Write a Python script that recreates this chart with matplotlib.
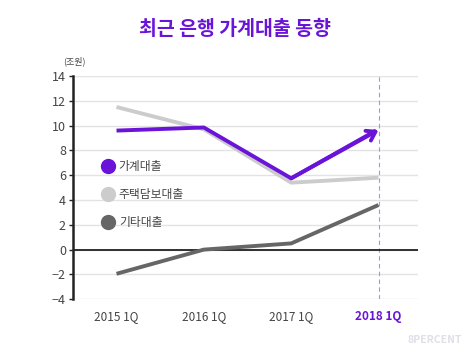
import matplotlib
matplotlib.use("Agg")
import matplotlib.pyplot as plt
from matplotlib.lines import Line2D

plt.rcParams['font.family'] = ['Noto Sans CJK KR', 'DejaVu Sans']

quarters = ["2015 1Q", "2016 1Q", "2017 1Q", "2018 1Q"]
household = [9.6, 9.85, 5.75, 9.65]
mortgage = [11.5, 9.7, 5.4, 5.8]
other = [-1.95, 0.0, 0.5, 3.6]
series_names = ["가계대출", "주택담보대출", "기타대출"]

PURPLE = "#6a14d8"
LIGHT = "#cccccc"
DARK = "#666666"

fig = plt.figure(figsize=(4.7, 3.52), dpi=100)
ax = fig.add_axes([0.155, 0.150, 0.734, 0.634])

x = list(range(len(quarters)))
ax.set_xlim(-0.5, 3.45)
ax.set_ylim(-4, 14)
ax.set_yticks(range(-4, 15, 2))
ax.grid(axis='y', color='#e3e3e3', lw=1)
ax.set_axisbelow(True)
ax.axhline(0, color='#222222', lw=1.3, zorder=2)
ax.axvline(3, color='#b48cf0', lw=0.8, ls=(0, (4, 3)), zorder=1)

ax.plot(x, mortgage, color=LIGHT, lw=2.8, solid_capstyle='butt', zorder=3)
ax.plot(x, other, color=DARK, lw=2.8, solid_capstyle='butt', zorder=3)
ax.plot(x[:-1] + [x[-1] - 0.03], household[:-1] + [household[-1] - 0.05],
        color=PURPLE, lw=2.8, solid_capstyle='butt', zorder=4)
ax.annotate("", xy=(x[-1], household[-1]), xytext=(x[-2], household[-2]),
            arrowprops=dict(arrowstyle='->,head_length=0.6,head_width=0.4',
                            color=PURPLE, lw=2.8, shrinkA=0, shrinkB=0), zorder=5)

for s in ['top', 'right', 'bottom']:
    ax.spines[s].set_visible(False)
ax.spines['left'].set_color('#222222')
ax.spines['left'].set_linewidth(1.8)
ax.tick_params(axis='y', length=3, width=1, color='#222222', labelsize=9, labelcolor='#444444', pad=2)
ax.tick_params(axis='x', length=0, labelsize=8.5, labelcolor='#444444', pad=8)
ax.set_xticks(x)
ax.set_xticklabels(quarters)
lbl = ax.get_xticklabels()[-1]
lbl.set_color(PURPLE)
lbl.set_fontweight('bold')

handles = [Line2D([], [], ls='none', marker='o', ms=10, color=c) for c in (PURPLE, LIGHT, DARK)]
leg = ax.legend(handles, series_names, loc='upper left', bbox_to_anchor=(0.082, 0.625),
                frameon=False, fontsize=8.5, labelspacing=1.3, handletextpad=0.3,
                handlelength=1.2, borderaxespad=0, borderpad=0)
for t in leg.get_texts():
    t.set_color('#444444')

fig.text(0.5, 0.915, "최근 은행 가계대출 동향", ha='center', va='center', fontsize=14,
         fontweight='bold', color=PURPLE)
fig.text(0.135, 0.825, "(조원)", ha='left', va='center', fontsize=6.5, color='#444444')
fig.text(0.983, 0.035, "8PERCENT", ha='right', va='center', fontsize=7.5,
         fontweight='bold', color='#dfe0e8')

fig.savefig("out.png", dpi=100)
